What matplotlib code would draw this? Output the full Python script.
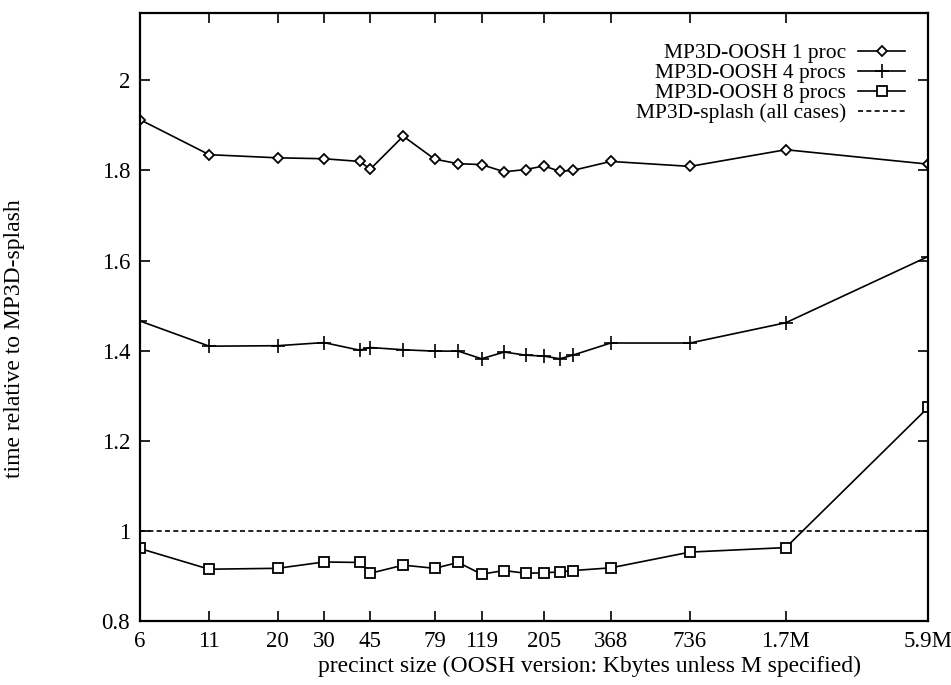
import matplotlib
matplotlib.use('Agg')
from matplotlib import pyplot as plt
from matplotlib.ticker import FixedLocator, FixedFormatter, NullLocator, FormatStrFormatter

plt.rcParams['font.family'] = ['Liberation Serif', 'DejaVu Serif']

# precinct sizes (Kbytes)
sizes = [6, 11, 20, 30, 41, 45, 60, 79, 97, 119, 145, 175, 205, 236, 264, 368, 736, 1700, 5900]

oosh_1proc = [1.913, 1.835, 1.828, 1.826, 1.820, 1.803, 1.876, 1.825, 1.815, 1.813,
              1.797, 1.802, 1.810, 1.798, 1.800, 1.820, 1.809, 1.846, 1.814]
oosh_4procs = [1.466, 1.410, 1.411, 1.418, 1.401, 1.407, 1.402, 1.399, 1.399, 1.382,
               1.397, 1.390, 1.388, 1.382, 1.390, 1.417, 1.417, 1.462, 1.609]
oosh_8procs = [0.961, 0.915, 0.917, 0.931, 0.930, 0.906, 0.924, 0.917, 0.930, 0.904,
               0.912, 0.906, 0.907, 0.909, 0.912, 0.918, 0.953, 0.963, 1.274]
splash = 1.0

tick_sizes = [6, 11, 20, 30, 45, 79, 119, 205, 368, 736, 1700, 5900]
tick_labels = ['6', '11', '20', '30', '45', '79', '119', '205', '368', '736', '1.7M', '5.9M']

fig = plt.figure(figsize=(9.51, 6.85), dpi=100)
ax = fig.add_axes([0.147, 0.0934, 0.829, 0.888])

lw = 1.2
ax.plot(sizes, oosh_1proc, color='black', lw=lw, marker='D', ms=5.5, mfc='white', mew=1.3,
        label='MP3D-OOSH 1 proc')
ax.plot(sizes, oosh_4procs, color='black', lw=lw, marker='+', ms=10, mew=1.2,
        label='MP3D-OOSH 4 procs')
ax.plot(sizes, oosh_8procs, color='black', lw=lw, marker='s', ms=7.5, mfc='white', mew=1.3,
        label='MP3D-OOSH 8 procs')
ax.axhline(splash, color='black', lw=1.2, ls=(0, (3, 2)), label='MP3D-splash (all cases)')

ax.set_xscale('log')
ax.set_xlim(tick_sizes[0], tick_sizes[-1])
ax.set_ylim(0.8, 2.15)
ax.xaxis.set_major_locator(FixedLocator(tick_sizes))
ax.xaxis.set_major_formatter(FixedFormatter(tick_labels))
ax.xaxis.set_minor_locator(NullLocator())
ax.set_yticks([0.8, 1.0, 1.2, 1.4, 1.6, 1.8, 2.0])
ax.yaxis.set_major_formatter(FormatStrFormatter('%g'))

ax.tick_params(direction='in', top=True, right=True, length=7, width=1.2, labelsize=16.5, pad=7)
for s in ax.spines.values():
    s.set_linewidth(1.6)

ax.set_xlabel('precinct size (OOSH version: Kbytes unless M specified)', fontsize=17)
ax.xaxis.set_label_coords(0.57, -0.058)
ax.set_ylabel('time relative to MP3D-splash', fontsize=17)
ax.yaxis.set_label_coords(-0.145, 0.465)

ax.legend(loc='upper right', markerfirst=False, frameon=False, fontsize=15.5,
          handlelength=2.2, labelspacing=0.0, handletextpad=0.55,
          borderpad=0.0, borderaxespad=0.0, bbox_to_anchor=(0.971, 0.95))

fig.savefig('out.png', dpi=100)
